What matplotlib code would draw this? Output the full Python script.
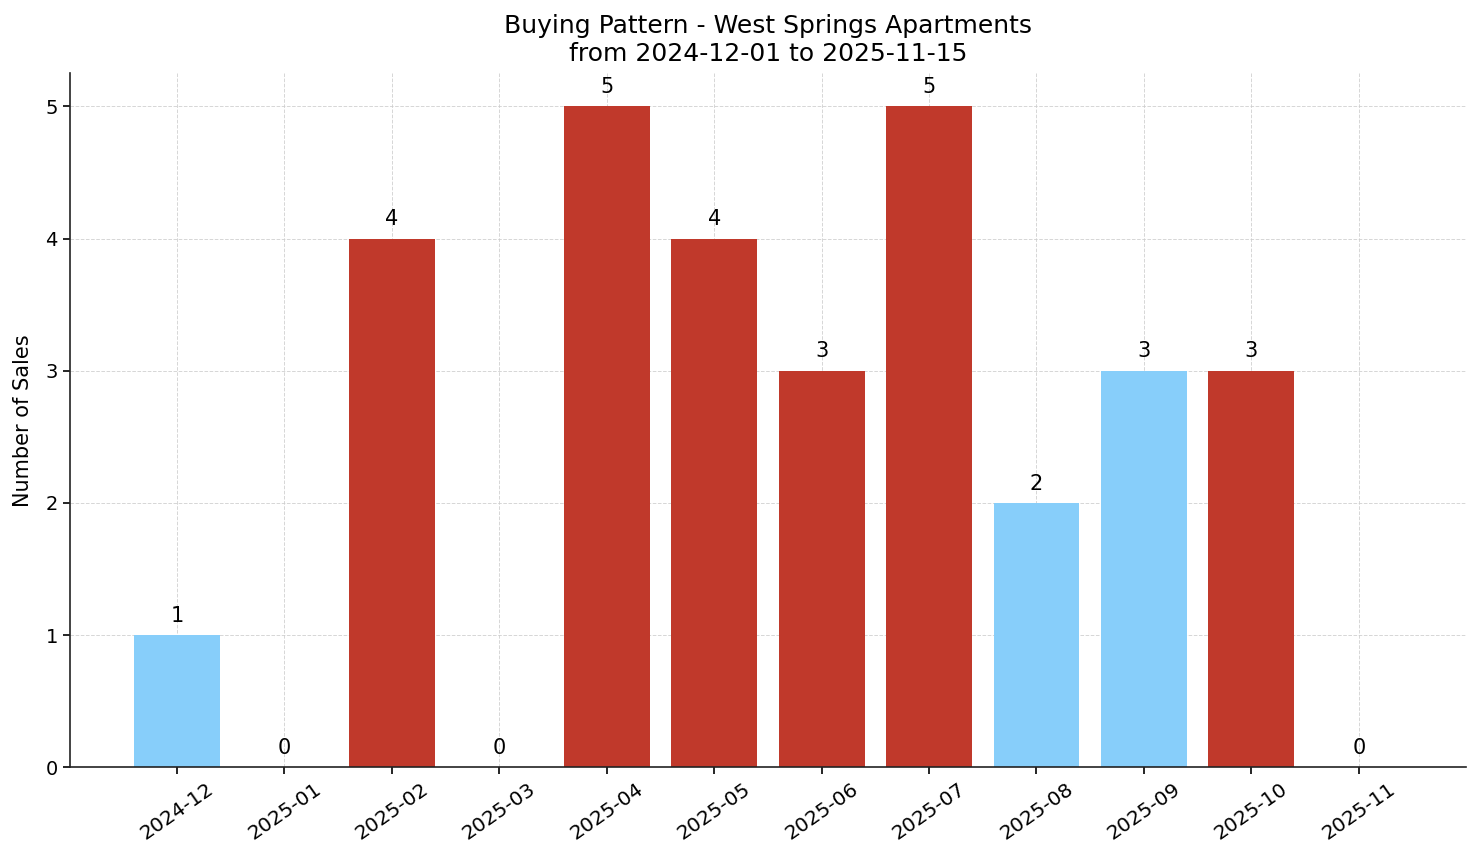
import matplotlib
matplotlib.use("Agg")
import matplotlib.pyplot as plt

months = ["2024-12", "2025-01", "2025-02", "2025-03", "2025-04", "2025-05",
          "2025-06", "2025-07", "2025-08", "2025-09", "2025-10", "2025-11"]
sales = [1, 0, 4, 0, 5, 4, 3, 5, 2, 3, 3, 0]
bar_colors = ["#87CEFA", "#87CEFA", "#C0392B", "#87CEFA", "#C0392B", "#C0392B",
              "#C0392B", "#C0392B", "#87CEFA", "#87CEFA", "#C0392B", "#87CEFA"]

fig, ax = plt.subplots(figsize=(14.81, 8.63), dpi=100)
x = range(len(months))
ax.bar(x, sales, width=0.8, color=bar_colors, zorder=2)
for i, v in enumerate(sales):
    ax.text(i, v + 0.07, str(v), ha='center', va='bottom', fontsize=15)

ax.set_xticks(list(x))
ax.set_xticklabels(months, rotation=35, fontsize=14.5)
ax.tick_params(axis='y', labelsize=14)
ax.tick_params(length=5, width=1.2)
ax.set_xlim(-1, 12)
ax.set_ylim(0, 5.25)
ax.set_ylabel('Number of Sales', fontsize=15, labelpad=9)
ax.set_title('Buying Pattern - West Springs Apartments\nfrom 2024-12-01 to 2025-11-15',
             fontsize=18, pad=9)
ax.grid(True, linestyle='--', color='#cccccc', linewidth=0.7, alpha=0.8, zorder=0)
ax.set_axisbelow(True)
ax.spines['top'].set_visible(False)
ax.spines['right'].set_visible(False)
for s in ('left', 'bottom'):
    ax.spines[s].set_linewidth(1.2)
    ax.spines[s].set_color('#222222')

plt.subplots_adjust(left=0.047, right=0.99, top=0.915, bottom=0.111)
plt.savefig("out.png", dpi=100)
